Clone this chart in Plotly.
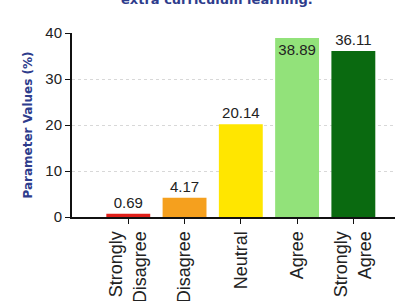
import plotly.graph_objects as go

categories = ["Strongly<br>Disagree", "Disagree", "Neutral", "Agree", "Strongly<br>Agree"]
values = [0.69, 4.17, 20.14, 38.89, 36.11]
labels = ["0.69", "4.17", "20.14", "38.89", "36.11"]
colors = ["#E0201A", "#F5A01E", "#FFE600", "#92E27A", "#0A6A10"]
text_pos = ["outside", "outside", "outside", "inside", "outside"]
y_ticks = [0, 10, 20, 30, 40]

FONT = "Liberation Sans, Arial"

fig = go.Figure()
fig.add_trace(go.Bar(
    x=list(range(len(categories))),
    y=values,
    width=0.78,
    marker=dict(color=colors, line=dict(width=0)),
    text=labels,
    textposition=text_pos,
    insidetextanchor="end",
    textfont=dict(family=FONT, size=15, color="#222222"),
    outsidetextfont=dict(family=FONT, size=15, color="#222222"),
    insidetextfont=dict(family=FONT, size=15, color="#222222"),
    cliponaxis=False,
))

fig.update_layout(
    width=398, height=301,
    margin=dict(l=72, r=3, t=33, b=84),
    paper_bgcolor="white", plot_bgcolor="white",
    showlegend=False,
    uniformtext=dict(minsize=8, mode=False),
    font=dict(family=FONT, size=14, color="#222222"),
)
fig.update_xaxes(
    range=[-1.0, 4.74],
    tickmode="array", tickvals=list(range(len(categories))), ticktext=categories,
    tickangle=-90,
    ticks="outside", ticklen=5, tickcolor="#111111",
    showline=True, linecolor="#111111", linewidth=2,
    showgrid=False, zeroline=False,
    tickfont=dict(family=FONT, size=18, color="#222222"),
    automargin=False,
)
fig.update_yaxes(
    range=[0, 40],
    tickmode="array", tickvals=y_ticks,
    ticks="outside", ticklen=5, tickcolor="#111111",
    showline=True, linecolor="#111111", linewidth=2,
    showgrid=True, gridcolor="#d8d8d8", griddash="dot", gridwidth=1,
    zeroline=False,
    tickfont=dict(family=FONT, size=15, color="#222222"),
    title=dict(text="<b>Parameter Values (%)</b>",
               font=dict(family="DejaVu Sans", size=12, color="#2E3C8C"), standoff=10),
    automargin=False,
)
fig.add_annotation(
    text="<b>extra curriculum learning.</b>",
    xref="paper", yref="paper", x=0.449, y=1.0, yshift=34, yanchor="middle",
    showarrow=False,
    font=dict(family="DejaVu Sans", size=13, color="#2E3C8C"),
)

fig.write_html("out.html", config={"displayModeBar": False},
               post_script="document.body.style.margin='0';")
